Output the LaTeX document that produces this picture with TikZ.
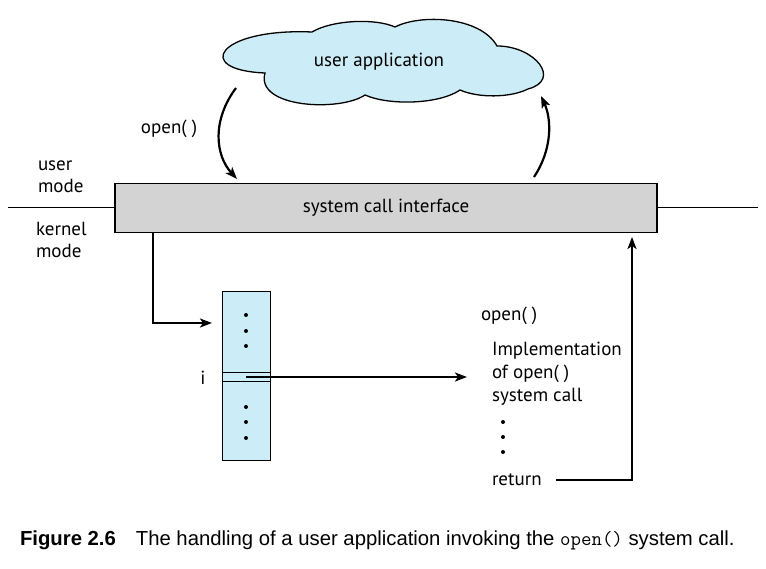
\documentclass[tikz,border=0pt]{standalone}
\usepackage{fontspec}
\setmainfont{PT Sans}
\newfontfamily\capfont{Liberation Sans}
\usetikzlibrary{arrows.meta}
\definecolor{cloudblue}{HTML}{CCEDF8}
\definecolor{boxgray}{HTML}{D3D3D3}
\begin{document}
\begin{tikzpicture}[x=1pt, y=-1pt, font=\fontsize{19}{22}\selectfont, line join=miter,
    every node/.style={inner sep=0pt, outer sep=0pt},
    link/.style={line width=2.2pt, -{Stealth[length=12pt, width=9pt, inset=3pt]}},
    dotmark/.style={circle, fill=black, minimum size=4pt}]
    \useasboundingbox (0, 0) rectangle (766, 569);
    % user side
    \draw[line width=1.3pt, fill=cloudblue] (265, 73) .. controls (192, 70) and (218, 28) .. (312, 32)
        .. controls (332, 20) and (375, 18) .. (395, 27)
        .. controls (420, 14) and (480, 16) .. (497, 46)
        .. controls (535, 46) and (562, 80) .. (528, 89)
        .. controls (510, 98) and (478, 98) .. (460, 90)
        .. controls (440, 104) and (390, 106) .. (365, 95)
        .. controls (340, 112) and (255, 108) .. cycle;
    \node (app) at (379, 62) {user application};
    \node[draw, line width=1.4pt, fill=boxgray, minimum width=542, minimum height=49] (sci) at (386, 208) {system call interface};
    \draw[line width=1pt] (8, 208) -- (sci.west);
    \draw[line width=1pt] (sci.east) -- (758, 208);
    \node[align=left, anchor=west] (user) at (38, 177) {user\\mode};
    \node[align=left, anchor=west] (kern) at (36, 240) {kernel\\mode};
    \coordinate (callout) at (236, 88);
    \coordinate (callin) at (237, 179);
    \coordinate (retout) at (534, 177);
    \coordinate (retin) at (541, 96);
    \draw[link] (callout) .. controls (212, 120) and (215, 155) .. (callin);
    \node (callname) at (169, 129) {open( )};
    \draw[link] (retout) .. controls (552, 150) and (552, 120) .. (retin);
    % kernel side
    \node[draw, line width=1pt, fill=cloudblue, minimum width=48, minimum height=169] (table) at (246, 376) {};
    \draw[line width=0.8pt] (222, 372) -- (270, 372) (222, 381) -- (270, 381);
    \foreach \y in {315, 331, 346, 407, 422, 438}
        \node[dotmark] at (246, \y) {};
    \node (idx) at (203, 378) {i};
    \coordinate (entry) at (246, 377);
    \coordinate (down) at (153, 233);
    \draw[link] (down) |- (212, 323);
    \draw[link] (entry) -- (467, 377);
    \node[anchor=west] (impl) at (481, 316) {open( )};
    \node[anchor=north west, align=left, font=\fontsize{19}{23}\selectfont] (implbody) at (492, 342) {Implementation\\of open( )\\system call};
    \foreach \y in {422, 437, 452}
        \node[dotmark] at (503, \y) {};
    \node[anchor=west] (ret) at (492, 480) {return};
    \draw[link] (556, 480) -| (632, 237);
    % caption
    \node[anchor=west, font=\capfont\fontsize{20.3}{24}\selectfont] (cap) at (20, 540)
        {\textbf{Figure 2.6}\hspace{20pt}The handling of a user application invoking the {\fontspec{Latin Modern Mono}open()} system call.};
\end{tikzpicture}
\end{document}
